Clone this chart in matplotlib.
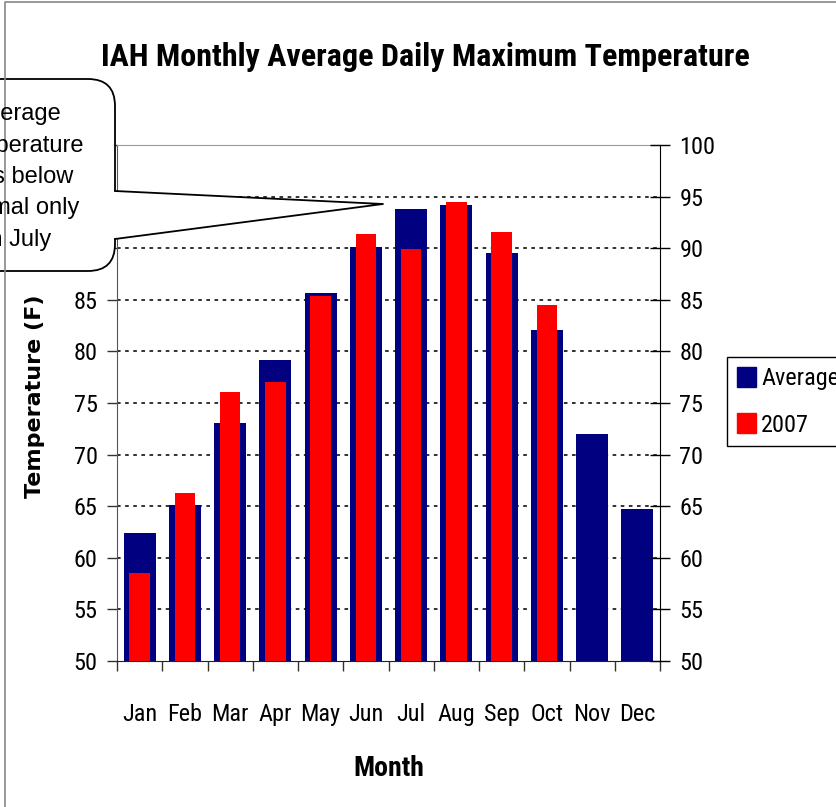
import numpy as np
import matplotlib
matplotlib.use('Agg')
import matplotlib.pyplot as plt
from matplotlib import font_manager
from matplotlib.patches import FancyBboxPatch, Polygon, Patch

# data
months = ['Jan', 'Feb', 'Mar', 'Apr', 'May', 'Jun', 'Jul', 'Aug', 'Sep', 'Oct', 'Nov', 'Dec']
average = [62.4, 65.1, 73.1, 79.2, 85.7, 90.1, 93.8, 94.2, 89.5, 82.1, 72.0, 64.7]
y2007 = [58.5, 66.3, 76.1, 77.0, 85.4, 91.4, 89.9, 94.5, 91.6, 84.5, np.nan, np.nan]
yticks = list(range(50, 101, 5))

names = {f.name for f in font_manager.fontManager.ttflist}
narrow = 'Liberation Sans'
for cand in ['Liberation Sans Narrow', 'Arial Narrow', 'Roboto Condensed', 'Archivo Narrow', 'PT Sans Narrow']:
    if cand in names:
        narrow = cand
        break
plt.rcParams['font.family'] = ['Liberation Sans', 'DejaVu Sans']

W, H = 836, 807
fig = plt.figure(figsize=(W / 100, H / 100), dpi=100)
ax = fig.add_axes([117 / W, 1 - 661 / H, (660 - 117) / W, (661 - 145) / H])

x = np.arange(len(months))
ax.bar(x, average, width=0.71, color='#000080', label='Average', zorder=2)
ax.bar(x, y2007, width=0.455, color='#FF0000', label='2007', zorder=3)

ax.set_xlim(-0.5, 11.5)
ax.set_ylim(50, 100)
for v in yticks[1:-1]:
    ax.axhline(v, color='#222222', lw=1.3, ls=(0, (2, 2.5)), zorder=1)

ax.set_xticks(x)
ax.set_xticklabels(months, family=narrow, fontsize=17.5)
ax.tick_params(axis='x', which='major', length=0, pad=30)
ax.set_xticks(np.arange(-0.5, 12, 1), minor=True)
ax.tick_params(axis='x', which='minor', length=7, width=1, direction='out', color='#333333')

# left labels above 85 sit under the callout in the original
ax.set_yticks(yticks)
ax.set_yticklabels([str(v) if v <= 85 else '' for v in yticks], family=narrow, fontsize=17.5)
ax.tick_params(axis='y', length=7, width=1, direction='out', pad=7, color='#333333')

ax.spines['top'].set_color('#999999')
ax.spines['right'].set_visible(False)
ax.spines['left'].set_color('#555555')
ax.spines['bottom'].set_color('#222222')

ax2 = ax.twinx()
ax2.set_ylim(50, 100)
ax2.set_yticks(yticks)
ax2.set_yticklabels([str(v) for v in yticks], family=narrow, fontsize=17.5)
ax2.tick_params(axis='y', length=14, width=1, direction='inout', pad=7)
for s in ['top', 'left', 'bottom']:
    ax2.spines[s].set_visible(False)
ax2.spines['right'].set_color('black')

ax.set_xlabel('Month', family=narrow, fontsize=20, fontweight='bold', labelpad=21)

fig.text(425 / W, 1 - 57 / H, 'IAH Monthly Average Daily Maximum Temperature',
         family=narrow, fontsize=23, fontweight='bold', ha='center', va='center')
fig.text(35 / W, 1 - 396 / H, 'Temperature (F)', family='DejaVu Sans', fontsize=16,
         fontweight='bold', rotation=90, ha='center', va='center')

fig.legend(handles=[Patch(color='#000080', label='Average'), Patch(color='#FF0000', label='2007')],
           loc='upper left', bbox_to_anchor=(727 / W, 1 - 357 / H), bbox_transform=fig.transFigure,
           prop={'family': narrow, 'size': 17.5}, frameon=True, fancybox=False, edgecolor='black',
           framealpha=1, handlelength=0.8, handleheight=0.9, handletextpad=0.2,
           labelspacing=0.95, borderpad=0.4, borderaxespad=0)

# overlay in pixel coordinates for the callout and chart frame
ov = fig.add_axes([0, 0, 1, 1], zorder=10)
ov.set_xlim(0, W)
ov.set_ylim(H, 0)
ov.axis('off')
ov.plot([5, 5, W + 5], [H + 5, 2, 2], color='#888888', lw=1.2)

box = FancyBboxPatch((-110, 79), 225, 192, boxstyle='round,pad=0,rounding_size=27',
                     fc='white', ec='black', lw=1.3)
ov.add_patch(box)
ov.add_patch(Polygon([(112, 191), (383, 204), (112, 239)], closed=True, fc='white', ec='none'))
ov.plot([115, 383, 115], [191, 204, 239], color='black', lw=1.3)
ov.text(18, 177, 'Average\nTemperature\nwas below\nnormal only\nin July', fontsize=17,
        ha='center', va='center', linespacing=1.55)

fig.savefig('out.png', dpi=100)
